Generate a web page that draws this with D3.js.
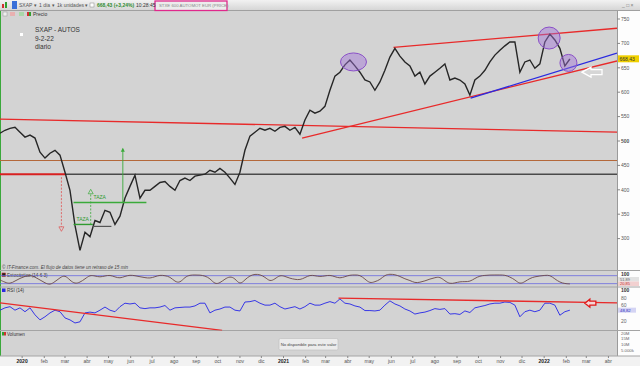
<!DOCTYPE html>
<html>
<head>
<meta charset="utf-8">
<script src="https://cdn.jsdelivr.net/npm/d3@7"></script>
<style>
  body { margin: 0; background: #d3d3d3; overflow: hidden; }
  svg { display: block; font-family: "Liberation Sans", Arial, sans-serif; }
</style>
</head>
<body>
<svg id="chart" width="640" height="366"></svg>
<script>
// weekly closes of SXAP, first week starts 1 Dec 2019
var firstWeek = new Date(2019, 11, 1);
var closes = [516, 522, 526, 528, 518, 508, 512, 506, 477, 465, 475, 481, 471, 436, 399, 327,
  276, 313, 304, 337, 333, 358, 354, 329, 346, 383, 407, 430, 383, 399, 399, 407,
  415, 417, 407, 399, 419, 424, 419, 428, 430, 432, 440, 436, 444, 436, 424, 411,
  436, 481, 510, 518, 526, 522, 526, 520, 528, 530, 522, 528, 514, 543, 563, 557,
  561, 571, 604, 633, 641, 656, 666, 654, 641, 625, 621, 604, 621, 645, 672, 690,
  674, 662, 654, 633, 641, 617, 633, 641, 649, 658, 625, 629, 625, 617, 594, 625,
  633, 645, 662, 676, 686, 695, 703, 703, 641, 662, 666, 649, 658, 703, 719, 707,
  690, 654, 668];
var rsi = [48, 54, 57, 48, 54, 44, 54, 36, 23, 31, 41, 48, 44, 28, 23, 15,
  18, 41, 43, 41, 48, 56, 48, 44, 57, 66, 64, 66, 54, 52, 54, 54,
  56, 60, 48, 54, 55, 56, 56, 59, 66, 66, 41, 48, 51, 56, 56, 48,
  46, 69, 70, 73, 66, 61, 61, 66, 57, 51, 54, 57, 51, 57, 66, 61,
  61, 66, 70, 66, 77, 66, 64, 59, 56, 47, 47, 46, 48, 61, 72, 64,
  59, 51, 46, 38, 41, 43, 47, 52, 50, 52, 38, 39, 37, 46, 42, 54,
  57, 60, 64, 66, 66, 69, 68, 61, 31, 44, 48, 44, 48, 66, 66, 61,
  35, 44, 48];
var stoch = [48, 30, 18, 40, 60, 75, 85, 70, 48, 25, 10, 35, 65, 85, 45, 18,
  30, 55, 85, 78, 68, 78, 85, 70, 60, 75, 85, 80, 72, 65, 60, 72,
  85, 80, 72, 35, 25, 70, 85, 85, 85, 78, 60, 15, 25, 55, 75, 60,
  10, 50, 80, 92, 88, 70, 35, 55, 85, 75, 60, 52, 48, 65, 85, 80,
  72, 78, 85, 72, 60, 72, 85, 85, 85, 55, 22, 35, 48, 85, 92, 88,
  75, 55, 45, 25, 30, 40, 55, 65, 72, 40, 18, 25, 35, 35, 35, 60,
  78, 82, 85, 85, 85, 85, 70, 50, 15, 35, 60, 72, 78, 82, 85, 55,
  30, 20, 18];

var priceTicks = [300, 350, 400, 450, 500, 550, 600, 650, 700, 750];
var rsiTicks = [100, 80, 60, 20];
var volTicks = ["20M", "15M", "10M", "5.000k"];
var stochLevels = [80, 20];
var monthNames = ["ene", "feb", "mar", "abr", "may", "jun", "jul", "ago", "sep", "oct", "nov", "dic"];
var lastPrice = "668,43";
var rsiLast = "48,82";
var stochLast = ["51,89", "20,85"];

// trend lines drawn on the price pane [date, price]
var redLines = [
  [["2019-12-01", 545], ["2022-04-13", 518]],
  [["2021-01-27", 506], ["2022-04-13", 664]],
  [["2021-06-04", 692], ["2022-04-13", 731]]
];
var blueLines = [[["2021-09-20", 588], ["2022-04-13", 680]]];
var brownLevel = 460;
var grayLevel = [["2020-03-01", 432], ["2022-04-13", 432]];
var redLevel = [["2019-12-01", 432], ["2020-03-01", 432]];
// pattern annotations
var tazaLow = [["2020-03-13", 329], ["2020-04-09", 329]];
var tazaLowRest = [["2020-04-09", 325], ["2020-05-05", 325]];
var tazaHigh = [["2020-03-13", 374], ["2020-06-23", 374]];
var targetDown = [["2020-02-25", 426], ["2020-02-25", 318]];
var targetUp1 = [["2020-04-06", 329], ["2020-04-06", 398]];
var targetUp2 = [["2020-05-21", 374], ["2020-05-21", 484]];
var circles = [["2021-04-09", 662], ["2022-01-08", 711], ["2022-02-04", 660]];
var whiteArrowAt = ["2022-02-23", 641];
// RSI pane lines [date, rsi]
var rsiRedLines = [
  [["2019-12-01", 67], ["2020-10-07", -4]],
  [["2021-03-19", 79], ["2022-04-13", 67]]
];
var redArrowAt = ["2022-02-27", 66];

var svg = d3.select("#chart");
var W = 640, H = 366, axisX = 617;
var parse = d3.timeParse("%Y-%m-%d");

var x = d3.scaleTime()
  .domain([new Date(2019, 11, 1), new Date(2022, 3, 13)])
  .range([0, axisX]);
var yPrice = d3.scaleLinear().domain([300, 750]).range([238.6, 19]);
var yStoch = d3.scaleLinear().domain([0, 100]).range([286.3, 273]);
var yRsi = d3.scaleLinear().domain([0, 100]).range([328.8, 290]);

var weeks = closes.map(function(d, i) { return d3.timeWeek.offset(firstWeek, i); });

// backgrounds
svg.append("rect").attr("width", W).attr("height", H).attr("fill", "#d3d3d3");
svg.append("rect").attr("x", axisX).attr("y", 10).attr("width", W - axisX).attr("height", 346).attr("fill", "#fdfdfd");
svg.append("rect").attr("x", 0).attr("y", 356).attr("width", W).attr("height", 10).attr("fill", "#f2f2f2");
svg.append("line").attr("x1", axisX + 0.5).attr("x2", axisX + 0.5).attr("y1", 10).attr("y2", 356).attr("stroke", "#9a9a9a");
svg.append("line").attr("x1", 0.5).attr("x2", 0.5).attr("y1", 10).attr("y2", 356).attr("stroke", "#3aa83a");

// toolbar
var grad = svg.append("defs").append("linearGradient").attr("id", "tb").attr("x1", 0).attr("x2", 0).attr("y1", 0).attr("y2", 1);
grad.append("stop").attr("offset", 0).attr("stop-color", "#f2f2f2");
grad.append("stop").attr("offset", 1).attr("stop-color", "#d6d6d6");
svg.append("rect").attr("width", W).attr("height", 10).attr("fill", "url(#tb)");
svg.append("line").attr("x1", 0).attr("x2", W).attr("y1", 10.5).attr("y2", 10.5).attr("stroke", "#a0a0a0");
svg.append("rect").attr("x", 2).attr("y", 4).attr("width", 2).attr("height", 4).attr("fill", "#d03030");
svg.append("rect").attr("x", 5).attr("y", 2).attr("width", 2).attr("height", 6).attr("fill", "#30a030");
svg.append("rect").attr("x", 12).attr("y", 1).attr("width", 5).attr("height", 8).attr("fill", "#3a6fd8");
svg.append("rect").attr("x", 155).attr("y", 1).attr("width", 72).attr("height", 9.5).attr("fill", "#ececec").attr("stroke", "#e0288c").attr("stroke-width", 1.3);
var tb = svg.append("g").attr("font-size", 5).attr("fill", "#555");
tb.append("text").attr("x", 19).attr("y", 7).text("SXAP ▾");
tb.append("text").attr("x", 39).attr("y", 7).text("1 día ▾");
tb.append("text").attr("x", 57).attr("y", 7).text("1k unidades ▾");
tb.append("rect").attr("x", 90).attr("y", 3).attr("width", 4).attr("height", 4).attr("fill", "#fff").attr("stroke", "#888").attr("stroke-width", 0.5);
tb.append("text").attr("x", 97).attr("y", 7).attr("fill", "#2e8b2e").attr("font-weight", "bold").text("668,43 (+3,24%)");
tb.append("text").attr("x", 136).attr("y", 7).attr("fill", "#333").text("10:28:45");
tb.append("text").attr("x", 159).attr("y", 7.3).attr("font-size", 4.3).attr("fill", "#888").text("STXE 600 AUTOMOT EUR (PRICE)");
tb.append("text").attr("x", 622).attr("y", 7).attr("fill", "#777").text("_ □ ×");

// row with legend "Precio"
svg.append("rect").attr("x", 3).attr("y", 12).attr("width", 4).attr("height", 4).attr("fill", "#eee").attr("stroke", "#999").attr("stroke-width", 0.5);
svg.append("rect").attr("x", 10).attr("y", 12).attr("width", 5).attr("height", 4).attr("fill", "#e8b0b0");
svg.append("rect").attr("x", 19).attr("y", 12).attr("width", 5).attr("height", 4).attr("fill", "#a8d8a8");
svg.append("rect").attr("x", 27).attr("y", 12).attr("width", 2).attr("height", 4).attr("fill", "#d03030");
svg.append("rect").attr("x", 29).attr("y", 12).attr("width", 2).attr("height", 4).attr("fill", "#30a030");
svg.append("text").attr("x", 33).attr("y", 16).attr("font-size", 5).attr("fill", "#333").text("Precio");

// chart title texts
svg.append("rect").attr("x", 20).attr("y", 33).attr("width", 3).attr("height", 3).attr("fill", "#fff");
var title = svg.append("g").attr("font-size", 6.5).attr("fill", "#333");
title.append("text").attr("x", 35).attr("y", 32).text("SXAP - AUTOS");
title.append("text").attr("x", 35).attr("y", 41).text("9-2-22");
title.append("text").attr("x", 35).attr("y", 49).text("diario");

// price pane
svg.append("clipPath").attr("id", "pricePane").append("rect").attr("x", 0).attr("y", 11).attr("width", axisX).attr("height", 259);
var pricePane = svg.append("g").attr("clip-path", "url(#pricePane)");

function pt(p) { return [x(parse(p[0])), yPrice(p[1])]; }
function seg(g, pair, color, width, dash) {
  var a = pt(pair[0]), b = pt(pair[1]);
  return g.append("line").attr("x1", a[0]).attr("y1", a[1]).attr("x2", b[0]).attr("y2", b[1])
    .attr("stroke", color).attr("stroke-width", width).attr("stroke-dasharray", dash || null);
}

pricePane.append("line").attr("x1", 0).attr("x2", axisX)
  .attr("y1", yPrice(brownLevel)).attr("y2", yPrice(brownLevel))
  .attr("stroke", "#b4683a").attr("stroke-width", 1.2);
seg(pricePane, grayLevel, "#4a4a4a", 1.4);
seg(pricePane, redLevel, "#d82020", 2);
redLines.forEach(function(l) { seg(pricePane, l, "#e82a2a", 1.3); });
blueLines.forEach(function(l) { seg(pricePane, l, "#2a2ae0", 1.3); });

// price line
var priceLine = d3.line()
  .x(function(d, i) { return x(weeks[i]); })
  .y(function(d) { return yPrice(d); });
pricePane.append("path").datum(closes).attr("d", priceLine)
  .attr("fill", "none").attr("stroke", "#262626").attr("stroke-width", 1.4)
  .attr("stroke-linejoin", "miter");

// TAZA annotations
seg(pricePane, tazaLow, "#2f9a2f", 1.4);
seg(pricePane, tazaLowRest, "#555", 1.2);
seg(pricePane, tazaHigh, "#3aaa3a", 1.4);
seg(pricePane, targetDown, "#e05050", 0.8, "2,1.5");
seg(pricePane, targetUp1, "#3aaa3a", 0.8, "2,1.5");
seg(pricePane, targetUp2, "#3aaa3a", 0.9);
var td = pt(targetDown[1]), tu1 = pt(targetUp1[1]), tu2 = pt(targetUp2[1]);
pricePane.append("path").attr("d", "M" + (td[0] - 2.5) + "," + (td[1] - 3) + "L" + (td[0] + 2.5) + "," + (td[1] - 3) + "L" + td[0] + "," + (td[1] + 1.5) + "Z")
  .attr("fill", "#d3d3d3").attr("stroke", "#e05050").attr("stroke-width", 0.7);
pricePane.append("path").attr("d", "M" + (tu1[0] - 2.5) + "," + (tu1[1] + 3) + "L" + (tu1[0] + 2.5) + "," + (tu1[1] + 3) + "L" + tu1[0] + "," + (tu1[1] - 1.5) + "Z")
  .attr("fill", "#d3d3d3").attr("stroke", "#3aaa3a").attr("stroke-width", 0.7);
pricePane.append("path").attr("d", "M" + (tu2[0] - 2) + "," + (tu2[1] + 3) + "L" + (tu2[0] + 2) + "," + (tu2[1] + 3) + "L" + tu2[0] + "," + (tu2[1] - 1) + "Z")
  .attr("fill", "#3aaa3a");
var tl = pt(tazaLow[0]), th = pt(tazaHigh[0]);
pricePane.append("text").attr("x", tl[0] + 3).attr("y", tl[1] - 3).attr("font-size", 5).attr("fill", "#2f9a2f").text("TAZA");
pricePane.append("text").attr("x", th[0] + 20).attr("y", th[1] - 3).attr("font-size", 5).attr("fill", "#2f9a2f").text("TAZA");

// purple circles
var circleSize = [[13, 9], [11, 11], [8.5, 8.5]];
circles.forEach(function(c, i) {
  var p = pt(c);
  pricePane.append("ellipse").attr("cx", p[0]).attr("cy", p[1])
    .attr("rx", circleSize[i][0]).attr("ry", circleSize[i][1])
    .attr("fill", "#a070d8").attr("fill-opacity", 0.45)
    .attr("stroke", "#8a4fc8").attr("stroke-width", 1);
});

// white arrow
var wa = pt(whiteArrowAt);
pricePane.append("path")
  .attr("d", d3.line()([[0, 0], [9, -5], [9, -2.5], [20, -2.5], [20, 2.5], [9, 2.5], [9, 5]]) + "Z")
  .attr("transform", "translate(" + wa[0] + "," + wa[1] + ")")
  .attr("fill", "#d6d6d6").attr("stroke", "#ffffff").attr("stroke-width", 1.3);

// price axis
var axisG = svg.append("g").attr("font-size", 5).attr("fill", "#555");
priceTicks.forEach(function(t) {
  axisG.append("line").attr("x1", axisX).attr("x2", axisX + 3).attr("y1", yPrice(t)).attr("y2", yPrice(t)).attr("stroke", "#888");
  axisG.append("text").attr("x", axisX + 4).attr("y", yPrice(t) + 1.8)
    .attr("font-weight", t === 500 ? "bold" : null).text(t);
});
var lp = yPrice(668.43);
axisG.append("rect").attr("x", axisX + 1).attr("y", lp - 3.5).attr("width", 21).attr("height", 7).attr("fill", "#f0d000");
axisG.append("text").attr("x", axisX + 2.5).attr("y", lp + 1.8).attr("fill", "#333").text(lastPrice);

// pane separators
[270.5, 287, 330.5, 356].forEach(function(yy) {
  svg.append("line").attr("x1", 0).attr("x2", W).attr("y1", yy).attr("y2", yy).attr("stroke", "#a4a4a4");
});
svg.append("text").attr("x", 2).attr("y", 269).attr("font-size", 4.6).attr("font-style", "italic").attr("fill", "#444")
  .text("© IT-Finance.com. El flujo de datos tiene un retraso de 15 min");

// stochastic pane
svg.append("rect").attr("x", 2).attr("y", 273).attr("width", 3.5).attr("height", 3.5).attr("fill", "#222").attr("stroke", "#c03030").attr("stroke-width", 0.6);
svg.append("text").attr("x", 7).attr("y", 276.5).attr("font-size", 4.6).attr("fill", "#333").text("Estocástico (14 6 3)");
stochLevels.forEach(function(l) {
  svg.append("line").attr("x1", 0).attr("x2", axisX).attr("y1", yStoch(l)).attr("y2", yStoch(l))
    .attr("stroke", "#6a6ae0").attr("stroke-width", 0.8);
});
svg.append("path").datum(stoch)
  .attr("d", d3.line().curve(d3.curveBasis)
    .x(function(d, i) { return x(weeks[i]); })
    .y(function(d) { return yStoch(d); }))
  .attr("fill", "none").attr("stroke", "#6b4848").attr("stroke-width", 0.9);
axisG.append("text").attr("x", axisX + 4).attr("y", 276).attr("font-weight", "bold").attr("fill", "#333").text("100");
axisG.append("rect").attr("x", axisX + 1).attr("y", 277).attr("width", 21).attr("height", 4.5).attr("fill", "#e2e2e2");
axisG.append("text").attr("x", axisX + 3).attr("y", 280.7).attr("font-size", 4).attr("fill", "#666").text(stochLast[0]);
axisG.append("rect").attr("x", axisX + 1).attr("y", 281.5).attr("width", 21).attr("height", 4.5).attr("fill", "#f2d0d0");
axisG.append("text").attr("x", axisX + 3).attr("y", 285.2).attr("font-size", 4).attr("fill", "#c03030").text(stochLast[1]);

// RSI pane
svg.append("clipPath").attr("id", "rsiPane").append("rect").attr("x", 0).attr("y", 287).attr("width", axisX).attr("height", 43.5);
var rsiPane = svg.append("g").attr("clip-path", "url(#rsiPane)");
svg.append("rect").attr("x", 2).attr("y", 288.5).attr("width", 3.5).attr("height", 3.5).attr("fill", "#2a2ae0");
svg.append("text").attr("x", 7).attr("y", 292).attr("font-size", 4.6).attr("fill", "#333").text("RSI (14)");
rsiPane.append("path").datum(rsi)
  .attr("d", d3.line()
    .x(function(d, i) { return x(weeks[i]); })
    .y(function(d) { return yRsi(d); }))
  .attr("fill", "none").attr("stroke", "#2525e8").attr("stroke-width", 0.9);
rsiRedLines.forEach(function(l) {
  rsiPane.append("line")
    .attr("x1", x(parse(l[0][0]))).attr("y1", yRsi(l[0][1]))
    .attr("x2", x(parse(l[1][0]))).attr("y2", yRsi(l[1][1]))
    .attr("stroke", "#e82a2a").attr("stroke-width", 1.3);
});
var ra = [x(parse(redArrowAt[0])), yRsi(redArrowAt[1])];
rsiPane.append("path")
  .attr("d", d3.line()([[0, 0], [5, -4], [5, -2], [11, -2], [11, 2], [5, 2], [5, 4]]) + "Z")
  .attr("transform", "translate(" + ra[0] + "," + ra[1] + ")")
  .attr("fill", "#f4d6d6").attr("stroke", "#e01818").attr("stroke-width", 1.3);
rsiTicks.forEach(function(t) {
  axisG.append("text").attr("x", axisX + 4).attr("y", yRsi(t) + 1.8)
    .attr("font-weight", t === 100 ? "bold" : null).attr("fill", t === 100 ? "#333" : "#666").text(t);
});
var rl = yRsi(rsi[rsi.length - 1]);
axisG.append("rect").attr("x", axisX + 1).attr("y", rl - 2.5).attr("width", 18).attr("height", 5).attr("fill", "#d4d4f4");
axisG.append("text").attr("x", axisX + 3).attr("y", rl + 1.6).attr("font-size", 4.3).attr("fill", "#3030c0").text(rsiLast);

// volume pane
svg.append("rect").attr("x", 2).attr("y", 332).attr("width", 2).attr("height", 3.5).attr("fill", "#30a030");
svg.append("rect").attr("x", 4).attr("y", 332).attr("width", 2).attr("height", 3.5).attr("fill", "#d03030");
svg.append("text").attr("x", 7).attr("y", 335.5).attr("font-size", 4.6).attr("fill", "#333").text("Volumen");
var volY = [333, 338, 344, 350];
volTicks.forEach(function(t, i) {
  axisG.append("text").attr("x", axisX + 4).attr("y", volY[i] + 1.6).attr("font-size", 4.3).attr("fill", "#666").text(t);
});
svg.append("rect").attr("x", 279).attr("y", 338.5).attr("width", 59).attr("height", 11.5).attr("rx", 1.5)
  .attr("fill", "#ececec").attr("stroke", "#bdbdbd").attr("stroke-width", 0.6);
svg.append("text").attr("x", 308.5).attr("y", 345.8).attr("text-anchor", "middle").attr("font-size", 4.3).attr("fill", "#444")
  .text("No disponible para este valor");

// time axis
var months = x.ticks(d3.timeMonth.every(1)).filter(function(d) { return x(d) > 10; });
var timeAxis = svg.append("g").attr("font-size", 5).attr("fill", "#444");
months.forEach(function(d) {
  var isYear = d.getMonth() === 0;
  timeAxis.append("line").attr("x1", x(d)).attr("x2", x(d)).attr("y1", 356).attr("y2", 358).attr("stroke", "#888");
  timeAxis.append("text").attr("x", x(d)).attr("y", 363).attr("text-anchor", "middle")
    .attr("font-weight", isYear ? "bold" : null).attr("fill", isYear ? "#222" : "#555")
    .text(isYear ? d.getFullYear() : monthNames[d.getMonth()]);
});
</script>
</body>
</html>
